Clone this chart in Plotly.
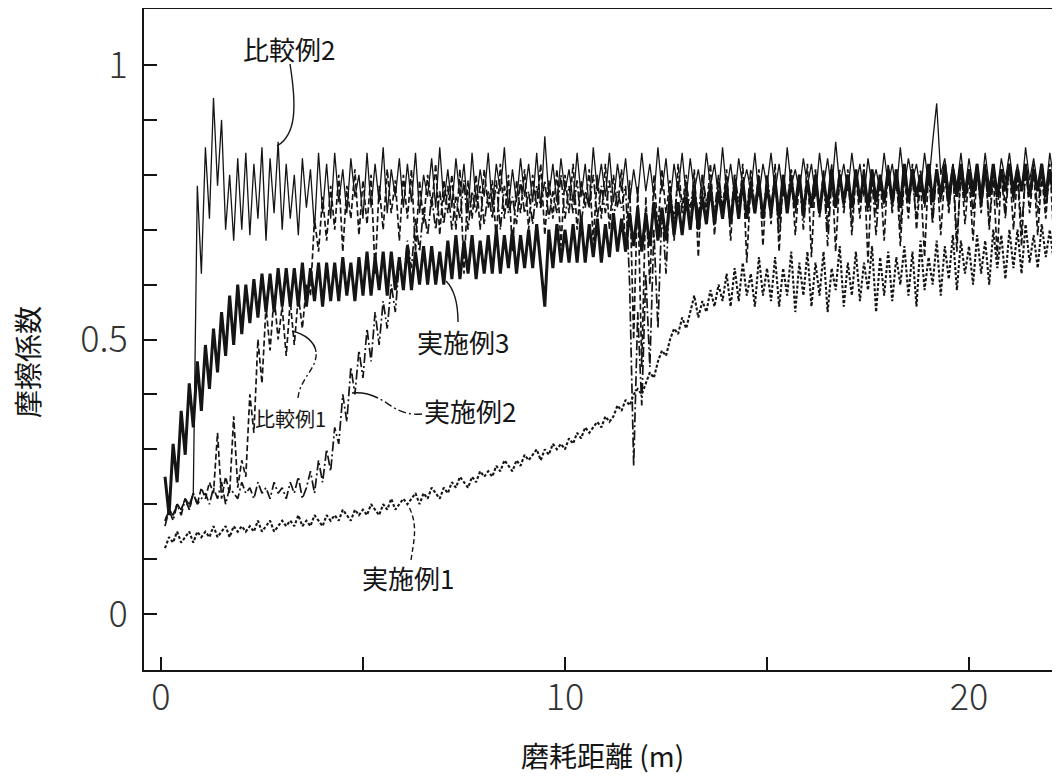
import plotly.graph_objects as go

# sampling of the recorded traces: first distance and step (m)
X0 = 0.1
DX = 0.1

# 比較例2 (thin solid)
hikaku2 = [
    0.17, 0.19, 0.18, 0.20, 0.19, 0.21, 0.20, 0.22, 0.78, 0.62,
    0.85, 0.72, 0.94, 0.78, 0.90, 0.70, 0.80, 0.68, 0.83, 0.70,
    0.84, 0.69, 0.82, 0.72, 0.85, 0.68, 0.83, 0.73, 0.86, 0.70,
    0.82, 0.72, 0.80, 0.69, 0.83, 0.74, 0.81, 0.70, 0.84, 0.73,
    0.82, 0.72, 0.84, 0.75, 0.81, 0.73, 0.83, 0.76, 0.80, 0.72,
    0.84, 0.74, 0.82, 0.75, 0.85, 0.73, 0.81, 0.76, 0.83, 0.74,
    0.82, 0.75, 0.84, 0.73, 0.80, 0.76, 0.83, 0.74, 0.85, 0.75,
    0.81, 0.74, 0.83, 0.76, 0.82, 0.73, 0.84, 0.75, 0.81, 0.76,
    0.84, 0.74, 0.82, 0.77, 0.85, 0.74, 0.81, 0.75, 0.83, 0.76,
    0.82, 0.75, 0.84, 0.74, 0.87, 0.76, 0.82, 0.75, 0.83, 0.77,
    0.81, 0.75, 0.84, 0.76, 0.82, 0.74, 0.85, 0.77, 0.82, 0.76,
    0.84, 0.75, 0.82, 0.77, 0.83, 0.75, 0.81, 0.76, 0.84, 0.77,
    0.82, 0.76, 0.85, 0.77, 0.83, 0.75, 0.82, 0.77, 0.84, 0.76,
    0.83, 0.77, 0.81, 0.76, 0.84, 0.78, 0.82, 0.76, 0.85, 0.77,
    0.82, 0.76, 0.83, 0.78, 0.81, 0.77, 0.84, 0.76, 0.82, 0.78,
    0.84, 0.77, 0.82, 0.76, 0.85, 0.78, 0.81, 0.77, 0.83, 0.78,
    0.82, 0.76, 0.84, 0.78, 0.83, 0.77, 0.86, 0.78, 0.82, 0.77,
    0.84, 0.78, 0.82, 0.76, 0.83, 0.78, 0.81, 0.77, 0.84, 0.78,
    0.82, 0.77, 0.85, 0.78, 0.83, 0.79, 0.82, 0.77, 0.84, 0.78,
    0.86, 0.93, 0.80, 0.83, 0.77, 0.82, 0.78, 0.84, 0.77, 0.83,
    0.78, 0.82, 0.77, 0.84, 0.78, 0.81, 0.77, 0.83, 0.79, 0.84,
    0.78, 0.82, 0.77, 0.85, 0.79, 0.83, 0.78, 0.82, 0.77, 0.84,
    0.79, 0.83, 0.78, 0.84, 0.77,
]

# 実施例3 (heavy solid)
jisshi3 = [
    0.25, 0.18, 0.31, 0.24, 0.37, 0.29, 0.42, 0.34, 0.46, 0.37,
    0.49, 0.41, 0.52, 0.44, 0.55, 0.47, 0.58, 0.49, 0.60, 0.51,
    0.60, 0.53, 0.61, 0.54, 0.62, 0.55, 0.62, 0.55, 0.63, 0.56,
    0.63, 0.56, 0.63, 0.56, 0.64, 0.56, 0.63, 0.57, 0.64, 0.56,
    0.64, 0.57, 0.64, 0.57, 0.65, 0.58, 0.64, 0.57, 0.65, 0.58,
    0.66, 0.58, 0.65, 0.59, 0.66, 0.58, 0.66, 0.59, 0.65, 0.59,
    0.67, 0.59, 0.66, 0.60, 0.67, 0.60, 0.67, 0.60, 0.66, 0.60,
    0.68, 0.61, 0.69, 0.61, 0.68, 0.62, 0.69, 0.61, 0.68, 0.62,
    0.69, 0.62, 0.70, 0.62, 0.69, 0.63, 0.70, 0.62, 0.69, 0.63,
    0.70, 0.63, 0.71, 0.63, 0.56, 0.70, 0.63, 0.71, 0.64, 0.70,
    0.64, 0.71, 0.64, 0.72, 0.64, 0.71, 0.65, 0.72, 0.64, 0.71,
    0.65, 0.73, 0.66, 0.72, 0.66, 0.73, 0.67, 0.74, 0.66, 0.73,
    0.67, 0.75, 0.68, 0.74, 0.68, 0.76, 0.69, 0.75, 0.69, 0.76,
    0.70, 0.77, 0.70, 0.76, 0.71, 0.78, 0.71, 0.77, 0.72, 0.78,
    0.71, 0.78, 0.72, 0.79, 0.72, 0.78, 0.73, 0.79, 0.72, 0.78,
    0.73, 0.79, 0.72, 0.80, 0.73, 0.79, 0.74, 0.80, 0.73, 0.79,
    0.74, 0.80, 0.73, 0.79, 0.74, 0.81, 0.74, 0.80, 0.75, 0.80,
    0.74, 0.81, 0.75, 0.80, 0.74, 0.81, 0.75, 0.80, 0.75, 0.81,
    0.75, 0.81, 0.74, 0.82, 0.75, 0.81, 0.76, 0.80, 0.75, 0.82,
    0.75, 0.81, 0.76, 0.82, 0.75, 0.81, 0.76, 0.82, 0.76, 0.81,
    0.76, 0.82, 0.75, 0.81, 0.76, 0.82, 0.76, 0.81, 0.77, 0.82,
    0.76, 0.81, 0.77, 0.82, 0.76, 0.81, 0.77, 0.82, 0.76, 0.81,
    0.77, 0.82, 0.76, 0.81, 0.77,
]

# 実施例1 (dotted)
jisshi1 = [
    0.12, 0.14, 0.13, 0.15, 0.13, 0.14, 0.15, 0.13, 0.15, 0.14,
    0.15, 0.14, 0.16, 0.14, 0.15, 0.16, 0.14, 0.16, 0.15, 0.16,
    0.15, 0.16, 0.15, 0.17, 0.15, 0.16, 0.17, 0.15, 0.16, 0.17,
    0.16, 0.17, 0.16, 0.18, 0.16, 0.17, 0.16, 0.18, 0.17, 0.16,
    0.18, 0.17, 0.18, 0.17, 0.19, 0.18, 0.17, 0.19, 0.18, 0.19,
    0.18, 0.20, 0.19, 0.18, 0.20, 0.19, 0.21, 0.19, 0.20, 0.21,
    0.20, 0.21, 0.22, 0.20, 0.22, 0.21, 0.23, 0.22, 0.21, 0.23,
    0.22, 0.24, 0.23, 0.25, 0.24, 0.23, 0.25, 0.24, 0.26, 0.25,
    0.26, 0.25, 0.27, 0.26, 0.28, 0.27, 0.26, 0.28, 0.27, 0.29,
    0.28, 0.29, 0.30, 0.28, 0.30, 0.29, 0.31, 0.30, 0.31, 0.30,
    0.32, 0.31, 0.33, 0.32, 0.34, 0.33, 0.34, 0.35, 0.34, 0.36,
    0.35, 0.36, 0.38, 0.37, 0.39, 0.38, 0.40, 0.41, 0.40, 0.42,
    0.44, 0.43, 0.46, 0.48, 0.47, 0.50, 0.52, 0.51, 0.54, 0.52,
    0.55, 0.58, 0.54, 0.57, 0.55, 0.59, 0.56, 0.60, 0.57, 0.62,
    0.56, 0.63, 0.57, 0.64, 0.58, 0.62, 0.56, 0.65, 0.58, 0.63,
    0.57, 0.65, 0.56, 0.63, 0.58, 0.66, 0.55, 0.64, 0.58, 0.66,
    0.56, 0.64, 0.58, 0.66, 0.55, 0.63, 0.59, 0.67, 0.56, 0.64,
    0.58, 0.66, 0.57, 0.64, 0.59, 0.67, 0.55, 0.65, 0.58, 0.66,
    0.57, 0.65, 0.60, 0.67, 0.58, 0.66, 0.56, 0.68, 0.59, 0.65,
    0.60, 0.68, 0.58, 0.67, 0.61, 0.69, 0.59, 0.68, 0.62, 0.67,
    0.60, 0.69, 0.62, 0.68, 0.60, 0.70, 0.63, 0.69, 0.61, 0.70,
    0.63, 0.70, 0.62, 0.71, 0.64, 0.69, 0.63, 0.71, 0.65, 0.70,
    0.64, 0.72, 0.65, 0.71, 0.64,
]

# 実施例2 (dash-dot)
jisshi2 = [
    0.16, 0.19, 0.17, 0.20, 0.18, 0.21, 0.19, 0.22, 0.20, 0.21,
    0.22, 0.20, 0.23, 0.21, 0.24, 0.20, 0.23, 0.22, 0.21, 0.24,
    0.22, 0.23, 0.21, 0.24, 0.22, 0.23, 0.21, 0.24, 0.22, 0.23,
    0.21, 0.24, 0.22, 0.25, 0.21, 0.23, 0.26, 0.22, 0.28, 0.24,
    0.30, 0.26, 0.34, 0.31, 0.40, 0.35, 0.45, 0.40, 0.48, 0.43,
    0.52, 0.46, 0.55, 0.49, 0.57, 0.52, 0.60, 0.55, 0.64, 0.60,
    0.68, 0.63, 0.72, 0.66, 0.74, 0.69, 0.76, 0.70, 0.77, 0.71,
    0.78, 0.70, 0.76, 0.72, 0.79, 0.70, 0.77, 0.73, 0.78, 0.71,
    0.77, 0.72, 0.79, 0.70, 0.78, 0.73, 0.76, 0.71, 0.79, 0.73,
    0.77, 0.71, 0.78, 0.74, 0.79, 0.72, 0.77, 0.73, 0.80, 0.72,
    0.78, 0.73, 0.79, 0.71, 0.77, 0.74, 0.80, 0.72, 0.78, 0.73,
    0.79, 0.72, 0.77, 0.74, 0.78, 0.60, 0.27, 0.55, 0.38, 0.62,
    0.45, 0.70, 0.52, 0.74, 0.62, 0.77, 0.72, 0.79, 0.73, 0.78,
    0.74, 0.79, 0.72, 0.80, 0.75, 0.78, 0.73, 0.80, 0.74, 0.79,
    0.72, 0.80, 0.75, 0.79, 0.73, 0.81, 0.74, 0.79, 0.72, 0.80,
    0.74, 0.80, 0.68, 0.79, 0.75, 0.81, 0.73, 0.80, 0.70, 0.79,
    0.75, 0.81, 0.72, 0.80, 0.67, 0.79, 0.74, 0.81, 0.73, 0.80,
    0.71, 0.80, 0.75, 0.81, 0.73, 0.79, 0.69, 0.80, 0.74, 0.81,
    0.73, 0.80, 0.70, 0.81, 0.75, 0.79, 0.72, 0.81, 0.74, 0.80,
    0.71, 0.81, 0.75, 0.80, 0.73, 0.82, 0.68, 0.80, 0.75, 0.81,
    0.73, 0.80, 0.76, 0.82, 0.71, 0.81, 0.74, 0.80, 0.72, 0.82,
    0.75, 0.81, 0.70, 0.80, 0.76, 0.82, 0.73, 0.81, 0.74, 0.80,
    0.75, 0.82, 0.73, 0.80, 0.74,
]

# 比較例1 (dashed)
hikaku1 = [
    0.17, 0.19, 0.18, 0.20, 0.19, 0.21, 0.19, 0.22, 0.20, 0.23,
    0.21, 0.24, 0.22, 0.33, 0.21, 0.25, 0.22, 0.36, 0.23, 0.28,
    0.25, 0.40, 0.33, 0.50, 0.42, 0.56, 0.48, 0.58, 0.50, 0.56,
    0.47, 0.57, 0.49, 0.58, 0.52, 0.60, 0.58, 0.72, 0.66, 0.76,
    0.68, 0.78, 0.70, 0.80, 0.66, 0.78, 0.72, 0.81, 0.69, 0.79,
    0.71, 0.80, 0.62, 0.78, 0.70, 0.81, 0.73, 0.79, 0.68, 0.80,
    0.72, 0.81, 0.66, 0.79, 0.71, 0.80, 0.74, 0.82, 0.69, 0.79,
    0.73, 0.80, 0.70, 0.81, 0.62, 0.79, 0.72, 0.80, 0.70, 0.81,
    0.74, 0.79, 0.68, 0.82, 0.72, 0.80, 0.66, 0.79, 0.73, 0.81,
    0.70, 0.80, 0.74, 0.82, 0.69, 0.79, 0.72, 0.81, 0.67, 0.80,
    0.73, 0.82, 0.70, 0.79, 0.74, 0.81, 0.68, 0.80, 0.72, 0.82,
    0.70, 0.80, 0.74, 0.81, 0.66, 0.79, 0.50, 0.78, 0.45, 0.76,
    0.60, 0.80, 0.70, 0.81, 0.73, 0.79, 0.68, 0.82, 0.74, 0.80,
    0.70, 0.81, 0.65, 0.80, 0.73, 0.82, 0.69, 0.79, 0.74, 0.81,
    0.68, 0.80, 0.72, 0.82, 0.64, 0.79, 0.73, 0.81, 0.67, 0.80,
    0.71, 0.82, 0.66, 0.80, 0.74, 0.81, 0.69, 0.79, 0.72, 0.82,
    0.65, 0.80, 0.73, 0.81, 0.70, 0.82, 0.66, 0.80, 0.74, 0.81,
    0.69, 0.80, 0.72, 0.82, 0.64, 0.81, 0.73, 0.80, 0.68, 0.82,
    0.74, 0.81, 0.67, 0.80, 0.72, 0.82, 0.70, 0.79, 0.65, 0.81,
    0.72, 0.82, 0.69, 0.80, 0.74, 0.81, 0.66, 0.82, 0.71, 0.80,
    0.68, 0.81, 0.73, 0.82, 0.70, 0.80, 0.65, 0.81, 0.74, 0.82,
    0.70, 0.80, 0.67, 0.82, 0.73, 0.81, 0.69, 0.80, 0.72, 0.82,
    0.68, 0.81, 0.74, 0.80, 0.71,
]

x_tickvals = [0, 5, 10, 15, 20]
x_ticktext = ["0", "", "10", "", "20"]
y_tickvals = [0, 0.1, 0.2, 0.3, 0.4, 0.5, 0.6, 0.7, 0.8, 0.9, 1.0]
y_ticktext = ["0", "", "", "", "", "0.5", "", "", "", "", "1"]

x_title = "磨耗距離 (m)"
y_title = "摩擦係数"

# ---- geometry: window pixels (page body has an 8px margin) ----
OFF = 8
FIG_W, FIG_H = 1060, 772
L, T, R, B = 144, 9, 1068, 670          # plot area in window pixels (right edge past the window)
XR = [-0.42, 22.45]
YR = [-0.102, 1.102]


def px2x(px):
    return XR[0] + (px - L) / (R - L) * (XR[1] - XR[0])


def py2y(py):
    return YR[1] - (py - T) / (B - T) * (YR[1] - YR[0])


INK = "#151515"
CJK = "Noto Sans CJK JP"

fig = go.Figure()

series = [
    (jisshi1, "実施例1", dict(color=INK, width=2.1, dash="3px,2px")),
    (hikaku1, "比較例1", dict(color=INK, width=1.7, dash="6px,3px")),
    (jisshi2, "実施例2", dict(color=INK, width=1.7, dash="10px,3px,2px,3px")),
    (hikaku2, "比較例2", dict(color=INK, width=1.3)),
    (jisshi3, "実施例3", dict(color=INK, width=3.0)),
]
for vals, name, line in series:
    fig.add_trace(go.Scatter(
        y=vals, x0=X0, dx=DX, mode="lines", name=name,
        line=line, showlegend=False, hoverinfo="skip",
    ))

# curve labels with leader lines (window pixel positions)
labels = [
    ("比較例2", 289, 48, 26),
    ("実施例3", 463, 341, 26),
    ("比較例1", 290, 418, 20),
    ("実施例2", 470, 410, 26),
    ("実施例1", 408, 577, 26),
]
for text, px, py, size in labels:
    fig.add_annotation(
        x=px2x(px), y=py2y(py), xref="x", yref="y", text=text,
        showarrow=False, xanchor="center", yanchor="middle",
        font=dict(family=CJK, size=size, color=INK),
    )

leaders = [
    ([(290, 64), (297, 108), (296, 135), (277, 146)], "solid"),
    ([(458, 322), (458, 305), (455, 290), (446, 281)], "solid"),
    ([(298, 398), (300, 378), (318, 368), (316, 352)], "6px,3px,2px,3px"),
    ([(316, 352), (315, 342), (305, 334), (292, 331)], "solid"),
    ([(422, 414), (400, 416), (392, 405), (378, 398)], "8px,3px,2px,3px"),
    ([(378, 398), (370, 394), (362, 392), (352, 393)], "solid"),
    ([(411, 560), (414, 540), (418, 525), (409, 507)], "5px,3px"),
]
for pts, dash in leaders:
    (a, b, c, d) = [(px2x(p[0]), py2y(p[1])) for p in pts]
    path = f"M {a[0]},{a[1]} C {b[0]},{b[1]} {c[0]},{c[1]} {d[0]},{d[1]}"
    fig.add_shape(type="path", path=path, xref="x", yref="y",
                  line=dict(color=INK, width=1.4, dash=dash))

# axis titles
fig.add_annotation(
    x=(27 - L) / (R - L), y=(B - 362) / (B - T), xref="paper", yref="paper",
    text=y_title, textangle=-90, showarrow=False,
    xanchor="center", yanchor="middle",
    font=dict(family=CJK, size=28, color=INK),
)
fig.add_annotation(
    x=(602 - L) / (R - L), y=(B - 755) / (B - T), xref="paper", yref="paper",
    text=x_title, showarrow=False, xanchor="center", yanchor="middle",
    font=dict(family=CJK, size=28, color=INK),
)

axis_common = dict(
    showline=True, linecolor=INK, linewidth=2,
    ticks="inside", ticklen=13, tickwidth=1.6, tickcolor=INK,
    showgrid=False, zeroline=False,
    tickfont=dict(family=CJK, size=36, color="#333", weight=300),
)
fig.update_xaxes(range=XR, tickmode="array", tickvals=x_tickvals,
                 ticktext=x_ticktext, mirror=True, ticklabelstandoff=-5,
                 **axis_common)
fig.update_yaxes(range=YR, tickmode="array", tickvals=y_tickvals,
                 ticktext=y_ticktext, ticklabelstandoff=7, **axis_common)

fig.update_layout(
    width=FIG_W, height=FIG_H,
    margin=dict(l=L - OFF, r=FIG_W - (R - OFF), t=T - OFF,
                b=FIG_H - (B - OFF), pad=0),
    paper_bgcolor="white", plot_bgcolor="white",
)

fig.write_html("out.html")
